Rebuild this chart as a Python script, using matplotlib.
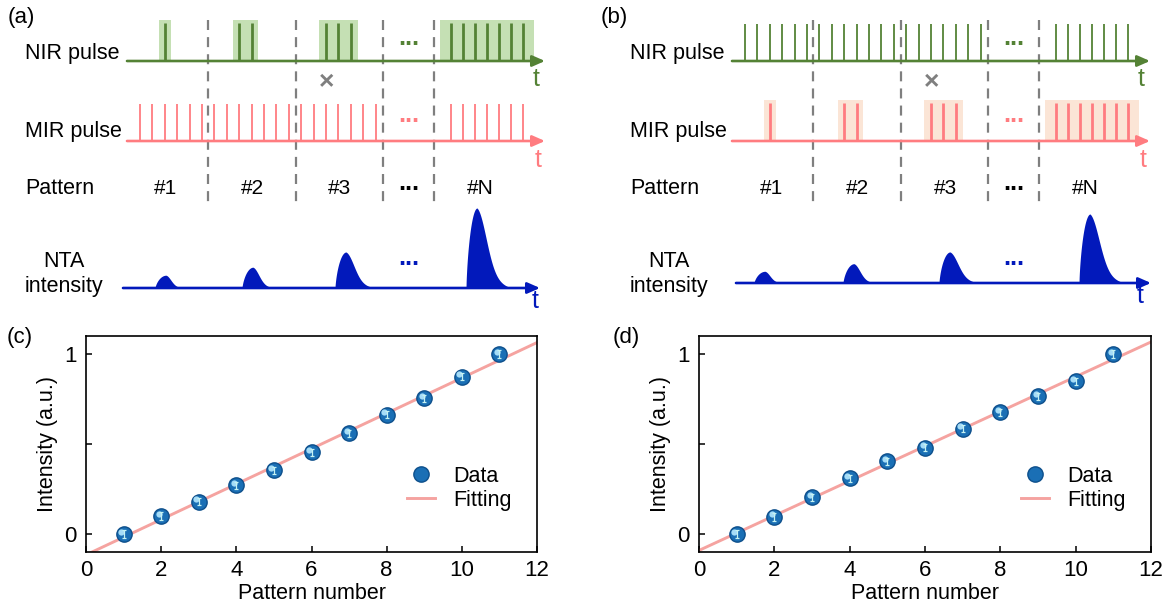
import numpy as np
import matplotlib.pyplot as plt
from matplotlib.patches import Rectangle
from matplotlib.transforms import offset_copy
from matplotlib.legend_handler import HandlerTuple

plt.rcParams['font.family'] = ['Liberation Sans', 'DejaVu Sans']

# ---- data for (c) and (d) ----
pattern_number = [1, 2, 3, 4, 5, 6, 7, 8, 9, 10, 11]
intensity_c = [0.0, 0.10, 0.18, 0.27, 0.355, 0.455, 0.56, 0.662, 0.755, 0.875, 1.0]
intensity_d = [0.0, 0.095, 0.203, 0.31, 0.403, 0.48, 0.584, 0.677, 0.766, 0.848, 1.0]
err_c = [0.02, 0.02, 0.02, 0.02, 0.02, 0.02, 0.02, 0.02, 0.02, 0.02, 0.02]
err_d = [0.02, 0.02, 0.02, 0.02, 0.02, 0.02, 0.02, 0.02, 0.02, 0.02, 0.02]

# ---- schematic content for (a) and (b) ----
pattern_labels = ['#1', '#2', '#3', '#N']
train_pulses = [20, 7]  # continuous pulses before / after the "..." gap
selected = [[2], [8, 9], [15, 16, 17], [20, 21, 22, 23, 24, 25, 26]]  # pulses kept per pattern
nta_a = [0.16, 0.26, 0.45, 1.0]
nta_b = [0.17, 0.28, 0.45, 1.0]

W, H = 1174, 614
fig = plt.figure(figsize=(W / 100, H / 100), dpi=100)

GREEN, LGREEN = '#548235', '#c5e0b4'
RED, PEACH = '#ff7c80', '#fbe5d6'
BLUE = '#0219bb'
GREY = '#7f7f7f'

sk = fig.add_axes([0, 0, 1, 1])
sk.set_xlim(0, W)
sk.set_ylim(H, 0)
sk.axis('off')

x_train = np.r_[140 + 12.4 * np.arange(train_pulses[0]), 451 + 12 * np.arange(train_pulses[1])]
box_pad = [6, 6, 7, 11]


def axis_arrow(y, x0, x1, color):
    sk.annotate('', xy=(x1, y), xytext=(x0, y),
                arrowprops=dict(arrowstyle='-|>,head_length=0.75,head_width=0.33',
                                color=color, lw=1.9, shrinkA=0, shrinkB=0,
                                mutation_scale=10), zorder=4)


def pulse_row(dx, y0, color, light, chosen):
    if chosen:
        for i, idx in enumerate(selected):
            xs = x_train[idx]
            sk.add_patch(Rectangle((xs[0] - box_pad[i] + dx, y0 - 41),
                                   xs[-1] - xs[0] + 2 * box_pad[i], 41,
                                   color=light, lw=0, zorder=1))
            sk.vlines(xs + dx, y0 - 38, y0, color=color, lw=2.0, zorder=3)
    else:
        sk.vlines(x_train + dx, y0 - 37, y0, color=color, lw=1.3, zorder=3)
    axis_arrow(y0, 127 + dx, 545 + dx, color)


def nta_peak(dx, base, c, h, fall, rise=11):
    u = np.linspace(-rise, fall, 300)
    up = np.clip(1 - (u / rise) ** 2, 0, 1) ** 0.7
    down = 0.72 * np.exp(-(u / (0.36 * fall)) ** 2) + 0.28 * np.clip(1 - u / fall, 0, 1) ** 1.5
    y = np.where(u < 0, up, down)
    sk.fill_between(u + c + dx, base, base - h * y, color=BLUE, lw=0, zorder=3)


def scheme(dx, sel_nir, nta_vals, nta_base, nta_scale, centres, nta_x0, nta_x1):
    pulse_row(dx, 61, GREEN, LGREEN, sel_nir)
    pulse_row(dx, 141, RED, PEACH, not sel_nir)
    for xd in [208, 296, 383, 434]:
        sk.plot([xd + dx, xd + dx], [20, 208], color=GREY, lw=1.6,
                dashes=(4.5, 3.2), zorder=2)
    fs = 15.5
    sk.text(25 + dx, 53, 'NIR pulse', fontsize=fs, va='center')
    sk.text(25 + dx, 132, 'MIR pulse', fontsize=fs, va='center')
    sk.text(25 + dx, 188, 'Pattern', fontsize=fs, va='center')
    sk.text(64 + dx, 274, 'NTA\nintensity', fontsize=fs, va='center', ha='center',
            linespacing=1.25)
    for lab, xc in zip(pattern_labels, [166, 252, 340, 480]):
        sk.text(xc + dx, 189, lab, fontsize=15, ha='center', va='center')
    for col, yy in [(GREEN, 38), (RED, 115), ('black', 183), (BLUE, 258)]:
        sk.text(409 + dx, yy, '...', fontsize=18, color=col, ha='center', va='center',
                fontweight='bold')
    sk.text(327 + dx, 82, '×', fontsize=19, color=GREY, ha='center', va='center',
            fontweight='bold')
    sk.text(536 + dx, 79, 't', fontsize=18, color=GREEN, ha='center', va='center')
    sk.text(538 + dx, 160, 't', fontsize=18, color=RED, ha='center', va='center')
    sk.text(535 + dx, nta_base + 13, 't', fontsize=18, color=BLUE, ha='center',
            va='center')
    axis_arrow(nta_base, nta_x0 + dx, nta_x1 + dx, BLUE)
    for v, c, fall in zip(nta_vals, centres, [19, 23, 31, 36]):
        nta_peak(dx, nta_base, c, v * nta_scale, fall)


scheme(0, True, nta_a, 288, 80, [166, 253, 346, 477], 123, 540)
scheme(605, False, nta_b, 283, 69, [160, 249, 345, 485], 131, 546)

for lab, (xp, yp) in zip(['(a)', '(b)', '(c)', '(d)'],
                         [(21, 17), (614, 17), (20, 337), (626, 337)]):
    fig.text(xp / W, 1 - yp / H, lab, fontsize=16, ha='center', va='center')


def data_panel(rect, y, err):
    ax = fig.add_axes(rect)
    k, b = np.polyfit(pattern_number, y, 1)
    xf = np.array([0, 12])
    fit, = ax.plot(xf, k * xf + b, color='#f5a3a0', lw=2.1, zorder=2)
    main, = ax.plot(pattern_number, y, 'o', ms=11, mfc='#1a6fb5', mec='#0d4f8b',
                    mew=1, ls='none', zorder=3)
    hl, = ax.plot(pattern_number, y, 'o', ms=4.5, mfc='#a5dcf7', mec='none', ls='none',
                  transform=offset_copy(ax.transData, fig=fig, x=-1.8, y=1.8,
                                        units='points'), zorder=4)
    ax.errorbar(pattern_number, y, yerr=err, fmt='none', ecolor='#c6f2f2',
                elinewidth=0.9, capsize=1.5, capthick=0.9, zorder=5)
    ax.set_xlim(0, 12)
    ax.set_ylim(-0.1, 1.1)
    ax.set_xticks(range(0, 13, 2))
    ax.set_yticks([0, 0.5, 1])
    ax.set_yticklabels(['0', '', '1'])
    ax.tick_params(direction='in', length=4, width=1.1, labelsize=16)
    ax.tick_params(axis='x', pad=6)
    ax.tick_params(axis='y', pad=7)
    for s in ax.spines.values():
        s.set_linewidth(1.2)
    ax.set_xlabel('Pattern number', fontsize=15.5, labelpad=1)
    ax.set_ylabel('Intensity (a.u.)', fontsize=15.5, labelpad=4)
    ax.legend([main, fit], ['Data', 'Fitting'],
              frameon=False, fontsize=15.5, loc='upper left',
              bbox_to_anchor=(0.712, 0.40), borderpad=0, borderaxespad=0,
              handlelength=1.3, handletextpad=0.85, labelspacing=0.15)
    return ax


data_panel([86 / W, (H - 552) / H, 451 / W, 216 / H], intensity_c, err_c)
data_panel([699 / W, (H - 552) / H, 452 / W, 216 / H], intensity_d, err_d)

fig.savefig('out.png', dpi=100)
